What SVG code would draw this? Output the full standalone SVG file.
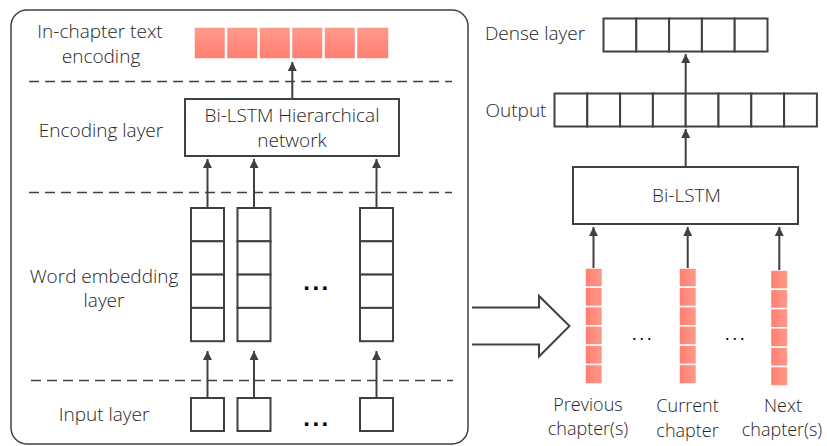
<svg xmlns="http://www.w3.org/2000/svg" width="827" height="446" viewBox="0 0 827 446">
<defs>
<linearGradient id="pv" x1="0" y1="0" x2="0" y2="1"><stop offset="0" stop-color="#FF9A8C"/><stop offset="1" stop-color="#FF7E70"/></linearGradient>
<linearGradient id="ph" x1="0" y1="0" x2="1" y2="0"><stop offset="0" stop-color="#FF7E70"/><stop offset="1" stop-color="#FF9A8C"/></linearGradient>
<marker id="ah" viewBox="0 0 10 10" refX="10" refY="5" markerWidth="9" markerHeight="9" markerUnits="userSpaceOnUse" orient="auto"><path d="M0,0 L10,5 L0,10 z" fill="#404040"/></marker>
<style>
text{font-family:"Open Sans","Liberation Sans",sans-serif;font-weight:300;font-size:19px;fill:#262626;text-anchor:middle}
.sm{font-size:18px}
.box{fill:#fff;stroke:#404040;stroke-width:2}
.cell{fill:#fff;stroke:#404040;stroke-width:2}
.pk{stroke:#fff;stroke-width:1.5}
.dash{stroke:#404040;stroke-width:1.3;stroke-dasharray:10,6;fill:none}
.arr{stroke:#404040;stroke-width:2;fill:none;marker-end:url(#ah)}
.dots{font-family:"Liberation Sans",sans-serif;font-size:24px;font-weight:700;letter-spacing:2.5px;fill:#000}
.dots2{font-family:"Liberation Sans",sans-serif;font-size:18px;font-weight:400;letter-spacing:2.5px;fill:#000}
</style>
</defs>
<g id="frame">
<rect x="11" y="10" width="457" height="434" rx="16" fill="#fff" stroke="#404040" stroke-width="1.5"/>
<line class="dash" x1="29" y1="81.5" x2="452" y2="81.5"/>
<line class="dash" x1="29" y1="192.5" x2="452" y2="192.5"/>
<line class="dash" x1="31" y1="380.5" x2="453" y2="380.5"/>
</g>
<g id="labels-left">
<text x="100" y="38">In-chapter text</text>
<text x="101" y="63">encoding</text>
<text x="101" y="137">Encoding layer</text>
<text x="104" y="283">Word embedding</text>
<text x="104" y="307">layer</text>
<text x="104" y="421">Input layer</text>
</g>
<g id="text-encoding">
<rect class="pk" x="194" y="27" width="31.5" height="32" fill="url(#pv)"/>
<rect class="pk" x="226.5" y="27" width="31.5" height="32" fill="url(#pv)"/>
<rect class="pk" x="259" y="27" width="31.5" height="32" fill="url(#pv)"/>
<rect class="pk" x="291.5" y="27" width="31.5" height="32" fill="url(#pv)"/>
<rect class="pk" x="324" y="27" width="31.5" height="32" fill="url(#pv)"/>
<rect class="pk" x="356.5" y="27" width="32.5" height="32" fill="url(#pv)"/>
</g>
<g id="bilstm-hier">
<rect class="box" x="185" y="99" width="214" height="57"/>
<text x="292" y="122">Bi-LSTM Hierarchical</text>
<text x="292" y="147">network</text>
</g>
<g id="embed-1">
<rect class="cell" x="191" y="208" width="33" height="33.3"/>
<rect class="cell" x="191" y="241.3" width="33" height="33.3"/>
<rect class="cell" x="191" y="274.6" width="33" height="33.3"/>
<rect class="cell" x="191" y="307.9" width="33" height="33.3"/>
</g>
<g id="embed-2">
<rect class="cell" x="237.5" y="208" width="33" height="33.3"/>
<rect class="cell" x="237.5" y="241.3" width="33" height="33.3"/>
<rect class="cell" x="237.5" y="274.6" width="33" height="33.3"/>
<rect class="cell" x="237.5" y="307.9" width="33" height="33.3"/>
</g>
<g id="embed-3">
<rect class="cell" x="360" y="208" width="33" height="33.3"/>
<rect class="cell" x="360" y="241.3" width="33" height="33.3"/>
<rect class="cell" x="360" y="274.6" width="33" height="33.3"/>
<rect class="cell" x="360" y="307.9" width="33" height="33.3"/>
</g>
<g id="embed-dots"><text class="dots" x="317" y="290">...</text></g>
<g id="input-1"><rect class="cell" x="191" y="398" width="33" height="33"/></g>
<g id="input-2"><rect class="cell" x="237.5" y="398" width="33" height="33"/></g>
<g id="input-3"><rect class="cell" x="360" y="398" width="33" height="33"/></g>
<g id="input-dots"><text class="dots" x="317" y="426">...</text></g>
<g id="dense">
<text x="535" y="40">Dense layer</text>
<rect class="cell" x="603.5" y="18.5" width="32.8" height="33"/>
<rect class="cell" x="636.3" y="18.5" width="32.8" height="33"/>
<rect class="cell" x="669.1" y="18.5" width="32.8" height="33"/>
<rect class="cell" x="701.9" y="18.5" width="32.8" height="33"/>
<rect class="cell" x="734.7" y="18.5" width="32.8" height="33"/>
</g>
<g id="output">
<text x="516" y="117">Output</text>
<rect class="cell" x="554.5" y="93.5" width="32.8" height="33"/>
<rect class="cell" x="587.3" y="93.5" width="32.8" height="33"/>
<rect class="cell" x="620.1" y="93.5" width="32.8" height="33"/>
<rect class="cell" x="652.9" y="93.5" width="32.8" height="33"/>
<rect class="cell" x="685.7" y="93.5" width="32.8" height="33"/>
<rect class="cell" x="718.5" y="93.5" width="32.8" height="33"/>
<rect class="cell" x="751.3" y="93.5" width="32.8" height="33"/>
<rect class="cell" x="784.1" y="93.5" width="32.8" height="33"/>
</g>
<g id="bilstm">
<rect class="box" x="573" y="167" width="225" height="57"/>
<text x="686.5" y="202">Bi-LSTM</text>
</g>
<g id="prev">
<rect class="pk" x="585" y="268" width="17.5" height="19.3" fill="url(#ph)"/>
<rect class="pk" x="585" y="287.3" width="17.5" height="19.3" fill="url(#ph)"/>
<rect class="pk" x="585" y="306.6" width="17.5" height="19.3" fill="url(#ph)"/>
<rect class="pk" x="585" y="325.9" width="17.5" height="19.3" fill="url(#ph)"/>
<rect class="pk" x="585" y="345.2" width="17.5" height="19.3" fill="url(#ph)"/>
<rect class="pk" x="585" y="364.5" width="17.5" height="19.5" fill="url(#ph)"/>
<text class="sm" x="588" y="411">Previous</text>
<text class="sm" x="588" y="435">chapter(s)</text>
</g>
<g id="curr">
<rect class="pk" x="679" y="268" width="17.5" height="19.3" fill="url(#ph)"/>
<rect class="pk" x="679" y="287.3" width="17.5" height="19.3" fill="url(#ph)"/>
<rect class="pk" x="679" y="306.6" width="17.5" height="19.3" fill="url(#ph)"/>
<rect class="pk" x="679" y="325.9" width="17.5" height="19.3" fill="url(#ph)"/>
<rect class="pk" x="679" y="345.2" width="17.5" height="19.3" fill="url(#ph)"/>
<rect class="pk" x="679" y="364.5" width="17.5" height="19.5" fill="url(#ph)"/>
<text class="sm" x="687.5" y="412">Current</text>
<text class="sm" x="687.5" y="437">chapter</text>
</g>
<g id="next">
<rect class="pk" x="770.5" y="270" width="17.5" height="19.3" fill="url(#ph)"/>
<rect class="pk" x="770.5" y="289.3" width="17.5" height="19.3" fill="url(#ph)"/>
<rect class="pk" x="770.5" y="308.6" width="17.5" height="19.3" fill="url(#ph)"/>
<rect class="pk" x="770.5" y="327.9" width="17.5" height="19.3" fill="url(#ph)"/>
<rect class="pk" x="770.5" y="347.2" width="17.5" height="19.3" fill="url(#ph)"/>
<rect class="pk" x="770.5" y="366.5" width="17.5" height="19.5" fill="url(#ph)"/>
<text class="sm" x="783" y="412">Next</text>
<text class="sm" x="782" y="436">chapter(s)</text>
</g>
<g id="chapter-dots">
<text class="dots2" x="643" y="340">...</text>
<text class="dots2" x="736" y="340">...</text>
</g>
<g id="connectors">
<line class="arr" x1="292.3" y1="99" x2="292.3" y2="62"/>
<line class="arr" x1="207.5" y1="208" x2="207.5" y2="159"/>
<line class="arr" x1="254" y1="208" x2="254" y2="159"/>
<line class="arr" x1="376.5" y1="208" x2="376.5" y2="159"/>
<line class="arr" x1="207.5" y1="398" x2="207.5" y2="351"/>
<line class="arr" x1="254" y1="398" x2="254" y2="351"/>
<line class="arr" x1="376.5" y1="398" x2="376.5" y2="351"/>
<line class="arr" x1="685.7" y1="93" x2="685.7" y2="54"/>
<line class="arr" x1="685.7" y1="167" x2="685.7" y2="129"/>
<line class="arr" x1="593.5" y1="268" x2="593.5" y2="227"/>
<line class="arr" x1="687.7" y1="268" x2="687.7" y2="227"/>
<line class="arr" x1="779.3" y1="270" x2="779.3" y2="227"/>
<path d="M472,307.5 L539,307.5 L539,296 L569.5,326 L539,356.5 L539,344.5 L472,344.5" fill="#fff" stroke="#404040" stroke-width="2" stroke-linejoin="miter"/>
</g>
</svg>
